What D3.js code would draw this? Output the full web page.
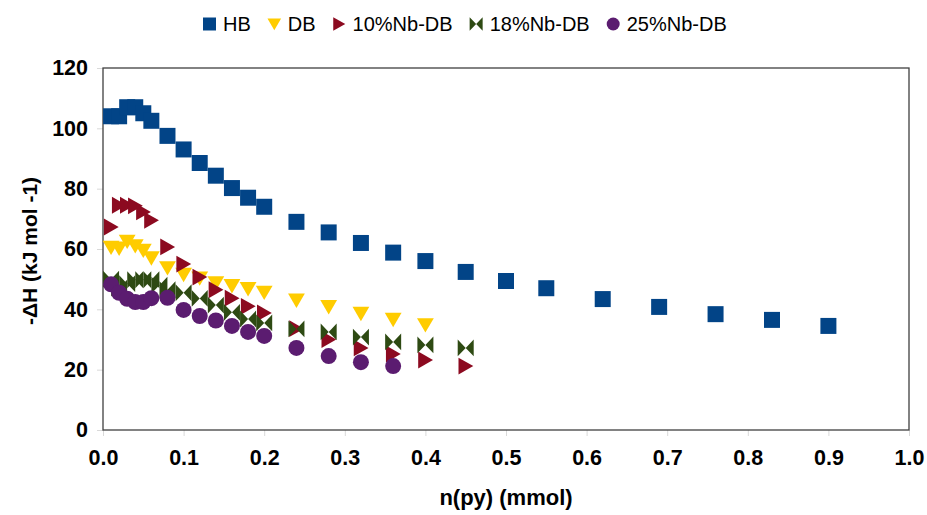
<!DOCTYPE html>
<html>
<head>
<meta charset="utf-8">
<script src="https://cdn.jsdelivr.net/npm/d3@7"></script>
<style>
  body { margin: 0; background: #fff; }
  svg { font-family: "Liberation Sans", Arial, sans-serif; }
</style>
</head>
<body>
<svg id="chart"></svg>
<script>
// Data
const seriesNames = ['HB', 'DB', '10%Nb-DB', '18%Nb-DB', '25%Nb-DB'];

const hbX = [0.01, 0.02, 0.03, 0.04, 0.05, 0.06, 0.08, 0.10, 0.12, 0.14, 0.16, 0.18, 0.20, 0.24, 0.28, 0.32, 0.36, 0.40, 0.45, 0.50, 0.55, 0.62, 0.69, 0.76, 0.83, 0.90];
const hbY = [104, 104, 107, 107, 105, 102.5, 97.5, 93, 88.5, 84.3, 80.2, 77, 74, 69, 65.5, 62, 58.8, 56, 52.4, 49.4, 47, 43.4, 40.8, 38.4, 36.5, 34.5];

const dbX = [0.01, 0.02, 0.03, 0.04, 0.05, 0.06, 0.08, 0.10, 0.12, 0.14, 0.16, 0.18, 0.20, 0.24, 0.28, 0.32, 0.36, 0.40];
const dbY = [60.5, 60.2, 62.5, 61, 59.5, 57, 53.7, 51.5, 50.3, 48.7, 47.8, 46.8, 45.6, 43, 40.8, 38.6, 36.6, 34.8];

const nb10X = [0.01, 0.02, 0.03, 0.04, 0.05, 0.06, 0.08, 0.10, 0.12, 0.14, 0.16, 0.18, 0.20, 0.24, 0.28, 0.32, 0.36, 0.40, 0.45];
const nb10Y = [67.3, 74.5, 74.5, 74.3, 72.3, 69.5, 60.7, 55, 50.7, 46.5, 43.7, 41, 38.8, 33.6, 30, 27.2, 25.2, 23.2, 21.2];

const nb18X = [0.01, 0.02, 0.03, 0.04, 0.05, 0.06, 0.07, 0.08, 0.10, 0.12, 0.14, 0.16, 0.18, 0.20, 0.24, 0.28, 0.32, 0.36, 0.40, 0.45];
const nb18Y = [50, 47, 48.5, 49.8, 49.8, 49.8, 48, 46.5, 45.5, 43.6, 41.4, 39, 36.8, 35.5, 33.5, 32.5, 30.8, 29.2, 28.2, 27.2];

const nb25X = [0.01, 0.02, 0.03, 0.04, 0.05, 0.06, 0.08, 0.10, 0.12, 0.14, 0.16, 0.18, 0.20, 0.24, 0.28, 0.32, 0.36];
const nb25Y = [48.3, 45.5, 43.5, 42.4, 42.4, 43.7, 43.8, 39.8, 37.8, 36.3, 34.5, 32.5, 31.2, 27.2, 24.5, 22.5, 21.2];

const xTicks = [0, 0.1, 0.2, 0.3, 0.4, 0.5, 0.6, 0.7, 0.8, 0.9, 1.0];
const yTicks = [0, 20, 40, 60, 80, 100, 120];

// Layout
const width = 927;
const height = 515;
const plot = { left: 103, right: 909, top: 68, bottom: 430 };

const svg = d3.select('#chart')
    .attr('width', width)
    .attr('height', height);

const x = d3.scaleLinear().domain([0, 1]).range([plot.left, plot.right]);
const y = d3.scaleLinear().domain([0, 120]).range([plot.bottom, plot.top]);

// marker shapes, r = half size
function markerPath(type, r) {
    switch (type) {
        case 'square':
            return `M${-r},${-r}H${r}V${r}H${-r}Z`;
        case 'down':
            return `M${-r * 1.05},${-r * 0.85}H${r * 1.05}L0,${r * 0.95}Z`;
        case 'right':
            return `M${-r * 0.9},${-r * 1.05}L${r * 0.95},0L${-r * 0.9},${r * 1.05}Z`;
        case 'bowtie':
            return `M${-r},${-r * 1.05}L0,0L${-r},${r * 1.05}Z M${r},${-r * 1.05}L0,0L${r},${r * 1.05}Z`;
        case 'circle':
            return d3.arc()({ innerRadius: 0, outerRadius: r, startAngle: 0, endAngle: 2 * Math.PI });
    }
}

const series = [
    { name: seriesNames[0], xs: hbX, ys: hbY, shape: 'square', color: '#024487' },
    { name: seriesNames[1], xs: dbX, ys: dbY, shape: 'down', color: '#FFCC00' },
    { name: seriesNames[2], xs: nb10X, ys: nb10Y, shape: 'right', color: '#8C0A20' },
    { name: seriesNames[3], xs: nb18X, ys: nb18Y, shape: 'bowtie', color: '#2E4A13' },
    { name: seriesNames[4], xs: nb25X, ys: nb25Y, shape: 'circle', color: '#5B1C70' }
];

// Axes
const yAxis = d3.axisLeft(y)
    .tickValues(yTicks)
    .tickSize(6)
    .tickPadding(9)
    .tickFormat(d3.format('d'));

const xAxis = d3.axisBottom(x)
    .tickValues(xTicks)
    .tickSize(6)
    .tickPadding(14)
    .tickFormat(d3.format('.1f'));

svg.append('g')
    .attr('transform', `translate(${plot.left},0)`)
    .call(yAxis)
    .call(g => g.select('.domain').remove())
    .call(g => g.selectAll('line').attr('stroke', '#d9d9d9'))
    .call(g => g.selectAll('text')
        .attr('fill', '#000')
        .style('font-size', '21.5px')
        .style('font-weight', 'bold'));

svg.append('g')
    .attr('transform', `translate(0,${plot.bottom})`)
    .call(xAxis)
    .call(g => g.select('.domain').remove())
    .call(g => g.selectAll('line').attr('stroke', '#d9d9d9'))
    .call(g => g.selectAll('text')
        .attr('fill', '#000')
        .style('font-size', '21.5px')
        .style('font-weight', 'bold'));

// Plot frame
svg.append('rect')
    .attr('x', plot.left)
    .attr('y', plot.top)
    .attr('width', plot.right - plot.left)
    .attr('height', plot.bottom - plot.top)
    .attr('fill', 'none')
    .attr('stroke', '#404040')
    .attr('stroke-width', 1.3);

// Points
series.forEach(s => {
    svg.append('g')
        .selectAll('path')
        .data(s.xs.map((v, i) => [v, s.ys[i]]))
        .enter()
        .append('path')
        .attr('transform', d => `translate(${x(d[0])},${y(d[1])})`)
        .attr('d', markerPath(s.shape, 8))
        .attr('fill', s.color);
});

// Axis titles
svg.append('text')
    .attr('transform', `translate(31,${(plot.top + plot.bottom) / 2 + 2}) rotate(-90)`)
    .attr('text-anchor', 'middle')
    .attr('dominant-baseline', 'middle')
    .style('font-size', '21px')
    .style('font-weight', 'bold')
    .text('-ΔH (kJ mol -1)');

svg.append('text')
    .attr('x', (plot.left + plot.right) / 2)
    .attr('y', 505)
    .attr('text-anchor', 'middle')
    .style('font-size', '22px')
    .style('font-weight', 'bold')
    .text('n(py) (mmol)');

// Legend
const legend = svg.append('g').attr('transform', 'translate(203,24)');
let lx = 0;
series.forEach(s => {
    legend.append('path')
        .attr('transform', `translate(${lx + 6.5},0)`)
        .attr('d', markerPath(s.shape, 6.5))
        .attr('fill', s.color);
    const t = legend.append('text')
        .attr('x', lx + 20)
        .attr('y', 7)
        .style('font-size', '20px')
        .text(s.name);
    lx += 20 + t.node().getComputedTextLength() + 17;
});
</script>
</body>
</html>
